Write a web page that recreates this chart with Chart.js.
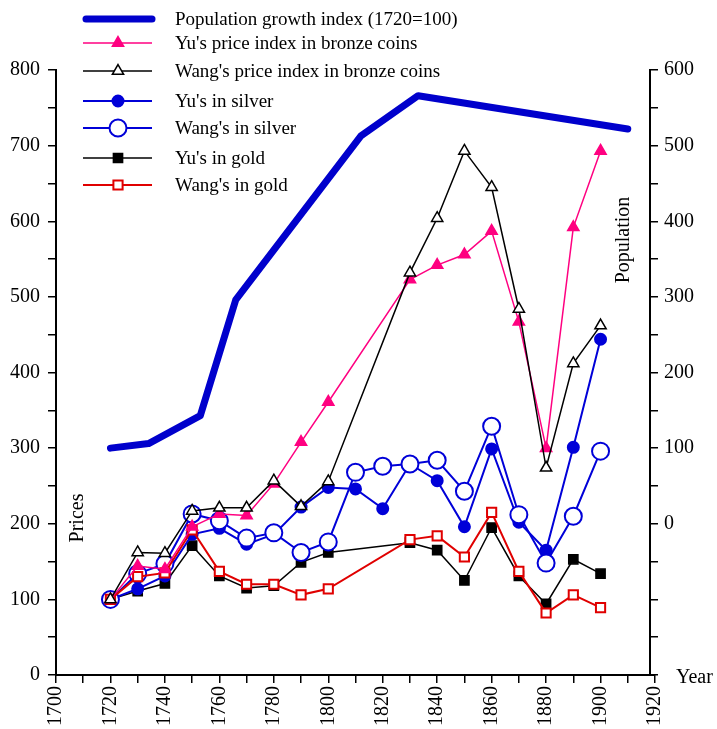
<!DOCTYPE html>
<html>
<head>
<meta charset="utf-8">
<script src="https://cdn.jsdelivr.net/npm/chart.js@4.4.1/dist/chart.umd.min.js"></script>
<style>
  html, body { margin: 0; padding: 0; background: #fff; }
  #wrap { width: 717px; height: 729px; }
</style>
</head>
<body>
<div id="wrap"><canvas id="priceChart"></canvas></div>
<script>
// decades used by the six price series
const years = [1720, 1730, 1740, 1750, 1760, 1770, 1780, 1790, 1800, 1810, 1820, 1830, 1840, 1850, 1860, 1870, 1880, 1890, 1900];

const yuBronze   = [100, 144, 140, 196, 213, 211, 253, 308, 361, null, null, 523, 542, 556, 587, 467, 300, 592, 693];
const wangBronze = [100, 162, 161, 217, 221, 221, 257, 223, 256, null, null, 532, 604, 693, 645, 484, 274, 412, 462];
const yuSilver   = [100, 114, 131, 186, 194, 173, 186, 222, 248, 246, 220, 279, 257, 196, 299, 202, 165, 301, 444];
const wangSilver = [100, 134, 147, 213, 204, 181, 188, 162, 176, 268, 276, 279, 284, 243, 329, 212, 148, 210, 296];
const yuGold     = [100, 111, 121, 171, 131, 115, 118, 149, 162, null, null, 175, 165, 125, 195, 131, 94, 153, 134];
const wangGold   = [100, 130, 135, 192, 137, 120, 120, 106, 114, null, null, 179, 184, 156, 215, 137, 82, 106, 89];

// population index (right axis)
const popYears  = [1720, 1734, 1753, 1766, 1812, 1833, 1910];
const popValues = [100, 106, 143, 296, 513, 566, 522];

const seriesNames = [
    'Population growth index (1720=100)',
    "Yu's price index in bronze coins",
    "Wang's price index in bronze coins",
    "Yu's in silver",
    "Wang's in silver",
    "Yu's in gold",
    "Wang's in gold"
];

const xTicks = { min: 1700, max: 1920, step: 10, labelEvery: 20 };
const leftTicks = { min: 0, max: 800, step: 50, labelEvery: 100 };
const rightTicks = { min: -200, max: 600, step: 50, labelEvery: 100 };

const FONT = "'Liberation Serif', 'Times New Roman', serif";
const BLUE = '#0000d8';
const PINK = '#ff0080';
const RED = '#e00000';

function toPoints(xs, ys) {
    return xs.map((x, i) => ({ x: x, y: ys[i] }));
}

function priceSet(label, data, color, style, radius, fill, width, order) {
    return {
        label: label,
        data: toPoints(years, data),
        borderColor: color,
        backgroundColor: fill,
        borderWidth: width,
        pointStyle: style,
        pointRadius: radius,
        pointBackgroundColor: fill,
        pointBorderColor: color,
        pointBorderWidth: width,
        spanGaps: true,
        tension: 0,
        order: order,
        yAxisID: 'y'
    };
}

const datasets = [
    {
        label: seriesNames[0],
        data: toPoints(popYears, popValues),
        borderColor: '#0000cc',
        borderWidth: 7,
        pointRadius: 0,
        borderCapStyle: 'round',
        borderJoinStyle: 'round',
        tension: 0,
        order: 0,
        yAxisID: 'y2'
    },
    priceSet(seriesNames[1], yuBronze, PINK, 'triangle', 6.5, PINK, 1.5, 2),
    priceSet(seriesNames[2], wangBronze, '#000', 'triangle', 6.5, '#fff', 1.5, 1),
    priceSet(seriesNames[3], yuSilver, BLUE, 'circle', 5.5, BLUE, 2, 5),
    priceSet(seriesNames[4], wangSilver, BLUE, 'circle', 8.5, '#fff', 2, 4),
    priceSet(seriesNames[5], yuGold, '#000', 'rect', 6.5, '#000', 1.5, 6),
    priceSet(seriesNames[6], wangGold, RED, 'rect', 6.5, '#fff', 2, 3)
];

// the right axis line sits a few px left of the 1920 end of the x axis
const shiftRightAxis = {
    id: 'shiftRightAxis',
    afterLayout(chart) {
        const s = chart.scales.y2;
        s.left -= 5;
        s.right -= 5;
    }
};

// legend rows drawn as a vertical list in the top-left corner
const legendPlugin = {
    id: 'stackLegend',
    afterDraw(chart) {
        const ctx = chart.ctx;
        const rows = [19, 43, 71, 101, 128, 158, 185];
        ctx.save();
        chart.data.datasets.forEach((ds, i) => {
            const y = rows[i];
            ctx.beginPath();
            ctx.strokeStyle = ds.borderColor;
            ctx.lineWidth = ds.borderWidth;
            ctx.lineCap = i === 0 ? 'round' : 'butt';
            ctx.moveTo(i === 0 ? 86 : 83, y);
            ctx.lineTo(152, y);
            ctx.stroke();
            if (ds.pointRadius > 0) {
                ctx.fillStyle = ds.pointBackgroundColor;
                ctx.strokeStyle = ds.pointBorderColor;
                ctx.lineWidth = ds.pointBorderWidth;
                Chart.helpers.drawPoint(ctx, {
                    pointStyle: ds.pointStyle,
                    radius: ds.pointRadius,
                    rotation: 0,
                    borderWidth: ds.pointBorderWidth
                }, 118, y);
            }
            ctx.fillStyle = '#000';
            ctx.font = '19px ' + FONT;
            ctx.textAlign = 'left';
            ctx.textBaseline = 'middle';
            ctx.fillText(ds.label, 175, y + 1);
        });
        ctx.restore();
    }
};

// axis titles placed inside / beside the plot like the original
const titlePlugin = {
    id: 'axisTitles',
    afterDraw(chart) {
        const ctx = chart.ctx;
        const area = chart.chartArea;
        ctx.save();
        ctx.fillStyle = '#000';
        ctx.font = '20px ' + FONT;
        ctx.textAlign = 'center';
        ctx.textBaseline = 'middle';

        ctx.save();
        ctx.translate(area.left + 22, 518);
        ctx.rotate(-Math.PI / 2);
        ctx.fillText('Prices', 0, 0);
        ctx.restore();

        ctx.save();
        ctx.translate(624, 240);
        ctx.rotate(-Math.PI / 2);
        ctx.fillText('Population', 0, 0);
        ctx.restore();

        ctx.textAlign = 'left';
        ctx.fillText('Year', 676, area.bottom + 3);
        ctx.restore();
    }
};

const gridStyle = {
    drawOnChartArea: false,
    drawTicks: true,
    tickLength: 8,
    color: '#000',
    lineWidth: 1.5
};

new Chart(document.getElementById('priceChart').getContext('2d'), {
    type: 'line',
    data: { datasets: datasets },
    plugins: [shiftRightAxis, legendPlugin, titlePlugin],
    options: {
        responsive: true,
        maintainAspectRatio: false,
        animation: false,
        layout: { padding: { top: 70, left: 0, right: 0, bottom: 0 } },
        plugins: {
            legend: { display: false },
            tooltip: { enabled: false }
        },
        scales: {
            x: {
                type: 'linear',
                min: xTicks.min,
                max: xTicks.max,
                grid: gridStyle,
                border: { display: true, color: '#000', width: 2 },
                ticks: {
                    stepSize: xTicks.step,
                    autoSkip: false,
                    minRotation: 90,
                    maxRotation: 90,
                    padding: 3,
                    color: '#000',
                    font: { family: FONT, size: 20 },
                    callback: v => (v % xTicks.labelEvery === 0 ? String(v) : '')
                },
                afterFit: scale => { scale.height = 54; }
            },
            y: {
                type: 'linear',
                position: 'left',
                min: leftTicks.min,
                max: leftTicks.max,
                grid: gridStyle,
                border: { display: true, color: '#000', width: 2 },
                ticks: {
                    stepSize: leftTicks.step,
                    autoSkip: false,
                    padding: 8,
                    color: '#000',
                    font: { family: FONT, size: 20 },
                    callback: v => (v % leftTicks.labelEvery === 0 ? String(v) : '')
                },
                afterFit: scale => { scale.width = 56; }
            },
            y2: {
                type: 'linear',
                position: 'right',
                min: rightTicks.min,
                max: rightTicks.max,
                grid: gridStyle,
                border: { display: true, color: '#000', width: 2 },
                ticks: {
                    stepSize: rightTicks.step,
                    autoSkip: false,
                    padding: 6,
                    color: '#000',
                    font: { family: FONT, size: 20 },
                    callback: v => (v >= 0 && v % rightTicks.labelEvery === 0 ? String(v) : '')
                },
                afterFit: scale => { scale.width = 62; }
            }
        }
    }
});
</script>
</body>
</html>
